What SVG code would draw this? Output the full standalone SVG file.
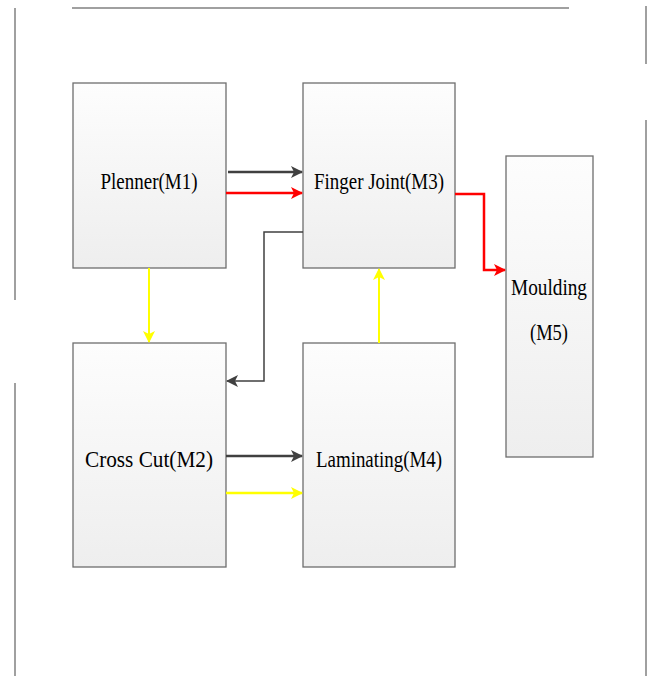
<svg xmlns="http://www.w3.org/2000/svg" width="652" height="676" viewBox="0 0 652 676">
<defs>
<linearGradient id="g" x1="0" y1="0" x2="0" y2="1">
<stop offset="0" stop-color="#fdfdfd"/>
<stop offset="1" stop-color="#eeeeee"/>
</linearGradient>
<marker id="ad" markerWidth="12" markerHeight="12" refX="11" refY="6" orient="auto" markerUnits="userSpaceOnUse" viewBox="0 0 12 12"><path d="M0,0 L12,6 L0,12 L3,6 Z" fill="#404040"/></marker>
<marker id="ar" markerWidth="12" markerHeight="12" refX="11" refY="6" orient="auto" markerUnits="userSpaceOnUse" viewBox="0 0 12 12"><path d="M0,0 L12,6 L0,12 L3,6 Z" fill="#ff0000"/></marker>
<marker id="ay" markerWidth="12" markerHeight="12" refX="11" refY="6" orient="auto" markerUnits="userSpaceOnUse" viewBox="0 0 12 12"><path d="M0,0 L12,6 L0,12 L3,6 Z" fill="#ffff00"/></marker>
</defs>
<style>
.box{fill:url(#g);stroke:#6e6e6e;stroke-width:1.3}
.t{font-family:"Liberation Serif","Times New Roman",serif;font-size:24px;fill:#000;text-anchor:middle}
.k{fill:none;stroke:#404040;stroke-width:2.5}
.r{fill:none;stroke:#ff0000;stroke-width:2.5}
.y{fill:none;stroke:#ffff00;stroke-width:2}
.b{stroke:#808080;stroke-width:1.5}
</style>
<rect width="652" height="676" fill="#fff"/>
<g id="frame">
<line class="b" x1="72" y1="8" x2="569" y2="8" stroke="#555"/>
<line class="b" x1="15" y1="8" x2="15" y2="300"/>
<line class="b" x1="15" y1="383" x2="15" y2="676"/>
<line class="b" x1="646" y1="6" x2="646" y2="64"/>
<line class="b" x1="646" y1="120" x2="646" y2="676"/>
</g>
<g id="M1"><rect class="box" x="73" y="83" width="153" height="185"/><text class="t" x="149" y="189" textLength="97" lengthAdjust="spacingAndGlyphs">Plenner(M1)</text></g>
<g id="M3"><rect class="box" x="303" y="83" width="152" height="185"/><text class="t" x="379" y="189" textLength="130" lengthAdjust="spacingAndGlyphs">Finger Joint(M3)</text></g>
<g id="M2"><rect class="box" x="73" y="343" width="153" height="224"/><text class="t" x="149" y="467" textLength="128" lengthAdjust="spacingAndGlyphs">Cross Cut(M2)</text></g>
<g id="M4"><rect class="box" x="303" y="343" width="152" height="224"/><text class="t" x="379" y="467" textLength="126" lengthAdjust="spacingAndGlyphs">Laminating(M4)</text></g>
<g id="M5"><rect class="box" x="506" y="156" width="87" height="301"/><text class="t" x="549" y="295" textLength="76" lengthAdjust="spacingAndGlyphs">Moulding</text><text class="t" x="549" y="340" textLength="38" lengthAdjust="spacingAndGlyphs">(M5)</text></g>
<g id="connectors">
<line class="k" x1="228" y1="172" x2="302" y2="172" marker-end="url(#ad)"/>
<line class="r" x1="226" y1="193" x2="302" y2="193" marker-end="url(#ar)"/>
<polyline class="r" points="455,194 484,194 484,270 505,270" marker-end="url(#ar)"/>
<polyline class="k" style="stroke-width:1.5" points="303,232 264,232 264,381 227,381" marker-end="url(#ad)"/>
<line class="y" x1="149" y1="268" x2="149" y2="342" marker-end="url(#ay)"/>
<line class="y" x1="379" y1="343" x2="379" y2="269" marker-end="url(#ay)"/>
<line class="k" x1="226" y1="456" x2="302" y2="456" marker-end="url(#ad)"/>
<line class="y" style="stroke-width:2.5" x1="226" y1="493" x2="302" y2="493" marker-end="url(#ay)"/>
</g>
</svg>
